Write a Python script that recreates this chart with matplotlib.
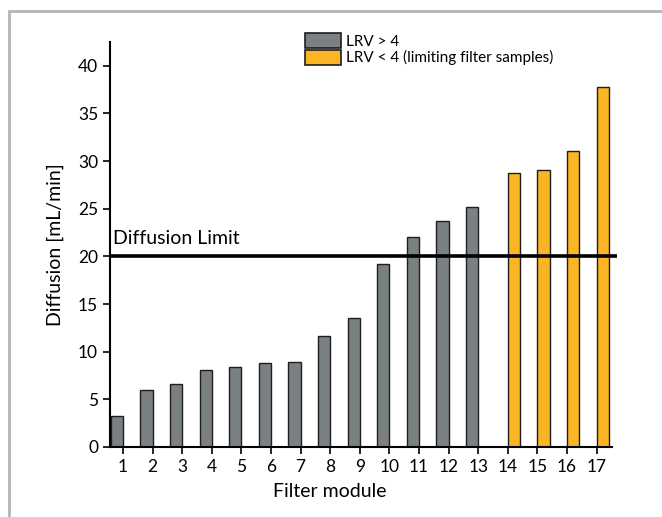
import numpy as np
import matplotlib.pyplot as plt
from matplotlib.patches import Patch, Rectangle

plt.rcParams['font.family'] = ['Lato', 'DejaVu Sans']

# Data
modules = np.arange(1, 18)
diffusion = [3.3, 6.0, 6.6, 8.1, 8.4, 8.8, 8.9, 11.6, 13.5, 19.2,
             22.0, 23.7, 25.2, 28.7, 29.1, 31.1, 37.8]
n_pass = 13          # modules 1-13: LRV > 4, 14-17: LRV < 4
diff_limit = 20

gray = '#7b8183'
orange = '#fbb424'
edge = '#1e1e1e'

fig = plt.figure(figsize=(6.62, 5.17), dpi=100)
ax = fig.add_axes([0.166, 0.1354, 0.7585, 0.7834])

# grey bars sit left of the tick, orange ones right of it
ax.bar(modules[:n_pass], diffusion[:n_pass], width=-0.41, align='edge',
       color=gray, edgecolor=edge, linewidth=1.0)
ax.bar(modules[n_pass:], diffusion[n_pass:], width=0.41, align='edge',
       color=orange, edgecolor=edge, linewidth=1.0)

ax.hlines(diff_limit, 0.56, 17.69, color='black', linewidth=2.6,
          clip_on=False, zorder=5)
ax.text(0.66, 21.3, 'Diffusion Limit', fontsize=14, va='baseline', ha='left')

ax.set_xlim(0.56, 17.52)
ax.set_ylim(0, 42.5)
ax.set_xticks(modules)
ax.set_yticks(np.arange(0, 41, 5))
ax.tick_params(axis='both', direction='out', length=5, width=1.2,
               labelsize=12.5, colors='black')
ax.tick_params(axis='x', pad=4)
for s in ['top', 'right']:
    ax.spines[s].set_visible(False)
for s in ['left', 'bottom']:
    ax.spines[s].set_linewidth(1.5)

ax.set_xlabel('Filter module', fontsize=14)
ax.set_ylabel('Diffusion [mL/min]', fontsize=14)
ax.xaxis.set_label_coords(0.438, -0.088)
ax.yaxis.set_label_coords(-0.092, 0.5)

handles = [Patch(facecolor=gray, edgecolor=edge, linewidth=1.2),
           Patch(facecolor=orange, edgecolor=edge, linewidth=1.2)]
fig.legend(handles, ['LRV > 4', 'LRV < 4 (limiting filter samples)'],
           loc='upper left', bbox_to_anchor=(0.451, 0.948), frameon=False,
           fontsize=11, handlelength=2.4, handleheight=1.15,
           labelspacing=0.05, handletextpad=0.3, borderaxespad=0)

# light grey frame, only top and left edges are in view
fig.patches.append(Rectangle((9 / 662, -0.1), 1.2, 1 - 11 / 517 + 0.1,
                             transform=fig.transFigure, fill=False,
                             edgecolor='#b4b4b4', linewidth=2))

fig.savefig('out.png', dpi=100)
